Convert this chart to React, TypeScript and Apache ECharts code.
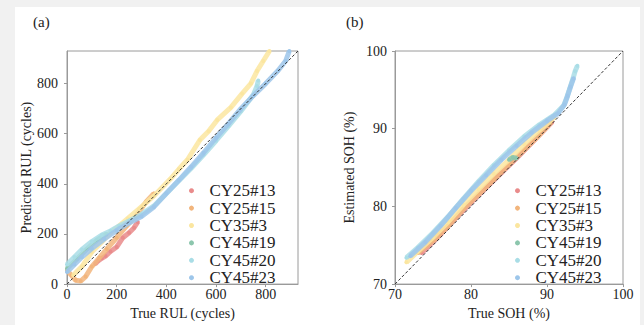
import { useEffect, useRef } from "react";
import * as echarts from "echarts";

const seriesNames = ["CY25#13", "CY25#15", "CY35#3", "CY45#19", "CY45#20", "CY45#23"];
const seriesColors = ["#e98b8b", "#f2b57c", "#fbe6a0", "#8cc6ad", "#a9dde6", "#9dc6ea"];

// (a) True RUL vs predicted RUL (cycles)
const rulCY25_13 = [[113, 80], [125, 92], [140, 103], [155, 112], [175, 130], [200, 148], [225, 185], [250, 205], [270, 225], [285, 248]];
const rulCY25_15 = [[0, 55], [18, 35], [35, 15], [55, 12], [75, 30], [100, 70], [130, 105], [160, 140], [200, 185], [240, 232], [280, 275], [320, 330], [350, 362]];
const rulCY35_3 = [[25, 35], [60, 70], [100, 128], [140, 168], [175, 205], [210, 232], [245, 262], [290, 300], [350, 352], [415, 418], [450, 458], [485, 496], [535, 575], [570, 610], [605, 655], [660, 705], [705, 760], [740, 800], [765, 850], [790, 890], [815, 930]];
const rulCY45_19 = [[0, 62], [40, 100], [80, 140], [120, 175], [160, 200]];
const rulCY45_20 = [[0, 78], [30, 108], [60, 138], [100, 170], [140, 196], [175, 212], [210, 232], [250, 252], [300, 278], [350, 312], [400, 362], [450, 412], [500, 462], [550, 516], [600, 572], [650, 630], [700, 690], [750, 755], [765, 790], [770, 812]];
const rulCY45_23 = [[0, 48], [30, 78], [60, 108], [100, 142], [150, 180], [200, 214], [250, 244], [300, 270], [350, 308], [400, 362], [450, 414], [500, 468], [550, 524], [600, 584], [650, 640], [700, 700], [750, 752], [800, 800], [850, 852], [880, 890], [895, 930]];
const rulDiagonal = [[0, 0], [930, 930]];

// (b) True SOH vs estimated SOH (%)
const sohCY25_13 = [[73.5, 74], [76, 76.4], [78, 78.5], [80, 80.5], [82, 82.4], [84, 84.3], [86, 86.2], [88, 88.2], [90, 90.2], [90.7, 90.9]];
const sohCY25_15 = [[73, 74], [75, 75.6], [77, 77.5], [79, 79.7], [81, 81.6], [83, 83.5], [85, 85.4], [87, 87.3], [89, 89.2], [90.5, 90.8]];
const sohCY35_3 = [[71.5, 72.8], [73, 74.2], [75, 76], [77, 78], [79, 80.2], [81, 82.2], [83, 84.2], [85, 86], [87, 88], [89, 89.8], [91, 91.5]];
const sohCY45_19 = [[85, 86], [85.5, 86.3], [86, 86.2]];
const sohCY45_20 = [[71.5, 73.4], [73, 74.7], [75, 76.6], [77, 78.7], [79, 81], [81, 83.2], [83, 85.3], [85, 87.2], [87, 89], [89, 90.5], [91, 91.8], [92.2, 93], [92.6, 94], [93, 95.2], [93.4, 96.4], [93.7, 97.4], [94, 98.1]];
const sohCY45_23 = [[72, 73.6], [74, 75.4], [76, 77.5], [78, 79.8], [80, 82], [82, 84], [84, 86], [86, 87.8], [88, 89.5], [90, 91], [91.5, 92], [92.3, 93.1], [92.7, 94.2], [93.1, 95.4], [93.5, 96.5]];
const sohDiagonal = [[70, 70], [100, 100]];

const rulData = [rulCY25_13, rulCY25_15, rulCY35_3, rulCY45_19, rulCY45_20, rulCY45_23];
const sohData = [sohCY25_13, sohCY25_15, sohCY35_3, sohCY45_19, sohCY45_20, sohCY45_23];

const FONT = "Liberation Serif";
const GRAY = "#9a9a9a";
const TXT = "#222";

export default function App() {
  const ref = useRef<HTMLDivElement>(null);
  useEffect(() => {
    const chart = echarts.init(ref.current!, null, { renderer: "svg" });

    const mkAxis = (gridIndex: number, min: number, max: number, interval: number, name: string, isY: boolean) => ({
      type: "value",
      gridIndex,
      min,
      max,
      interval,
      name,
      nameLocation: "middle",
      nameGap: isY ? (gridIndex === 0 ? 31 : 39) : 19,
      nameTextStyle: { fontFamily: FONT, fontSize: 14, color: TXT },
      axisLine: { show: true, lineStyle: { color: GRAY, width: 1 } },
      axisTick: { show: true, length: 3, lineStyle: { color: GRAY } },
      axisLabel: {
        fontFamily: FONT,
        fontSize: 14,
        color: TXT,
        margin: isY ? (gridIndex === 0 ? 9 : 8) : 3,
        showMaxLabel: gridIndex === 1,
        showMinLabel: true,
      },
      splitLine: { show: false },
    });

    const series: any[] = [];
    const addSeries = (arr: number[][][], axis: number) => {
      arr.forEach((d, i) => {
        series.push({
          name: seriesNames[i],
          type: "line",
          xAxisIndex: axis,
          yAxisIndex: axis,
          data: d,
          symbol: "circle",
          symbolSize: 4,
          itemStyle: { color: seriesColors[i] },
          lineStyle: { color: seriesColors[i], width: 5, opacity: 0.85 },
          z: 2 + i * 0.1,
        });
      });
    };
    addSeries(rulData, 0);
    addSeries(sohData, 1);
    series.push({
      name: "diag-a",
      type: "line",
      xAxisIndex: 0,
      yAxisIndex: 0,
      data: rulDiagonal,
      symbol: "none",
      lineStyle: { color: "#333", width: 1, type: [3, 2] },
      z: 5,
    });
    series.push({
      name: "diag-b",
      type: "line",
      xAxisIndex: 1,
      yAxisIndex: 1,
      data: sohDiagonal,
      symbol: "none",
      lineStyle: { color: "#333", width: 1, type: [3, 2] },
      z: 5,
    });

    const mkLegend = (left: number) => ({
      data: seriesNames,
      orient: "vertical",
      left,
      top: 182,
      itemGap: 0,
      itemWidth: 26,
      itemHeight: 5,
      icon: "circle",
      padding: 0,
      textStyle: { fontFamily: FONT, fontSize: 17, color: TXT, lineHeight: 17.4 },
      selectedMode: false,
    });

    chart.setOption({
      animation: false,
      backgroundColor: "#f1f1f1",
      textStyle: { fontFamily: FONT },
      graphic: [
        { type: "rect", shape: { x: 15, y: 7, width: 625, height: 318 }, style: { fill: "#ffffff" }, z: -10 },
        { type: "text", left: 33, top: 14, style: { text: "(a)", font: `15px ${FONT}`, fill: TXT } },
        { type: "text", left: 346, top: 14, style: { text: "(b)", font: `15px ${FONT}`, fill: TXT } },
      ],
      grid: [
        { left: 67, top: 51, width: 231, height: 234, show: true, borderColor: GRAY, borderWidth: 1, backgroundColor: "#fff" },
        { left: 395, top: 51, width: 228, height: 234, show: true, borderColor: GRAY, borderWidth: 1, backgroundColor: "#fff" },
      ],
      xAxis: [
        { ...mkAxis(0, 0, 930, 200, "True RUL (cycles)", false) },
        { ...mkAxis(1, 70, 100, 10, "True SOH (%)", false) },
      ],
      yAxis: [
        { ...mkAxis(0, 0, 930, 200, "Predicted RUL (cycles)", true) },
        { ...mkAxis(1, 70, 100, 10, "Estimated SOH (%)", true) },
      ],
      legend: [mkLegend(189), mkLegend(515)],
      series,
    });
    return () => chart.dispose();
  }, []);
  return <div ref={ref} style={{ position: "fixed", left: 0, top: 0, width: 644, height: 325 }} />;
}
